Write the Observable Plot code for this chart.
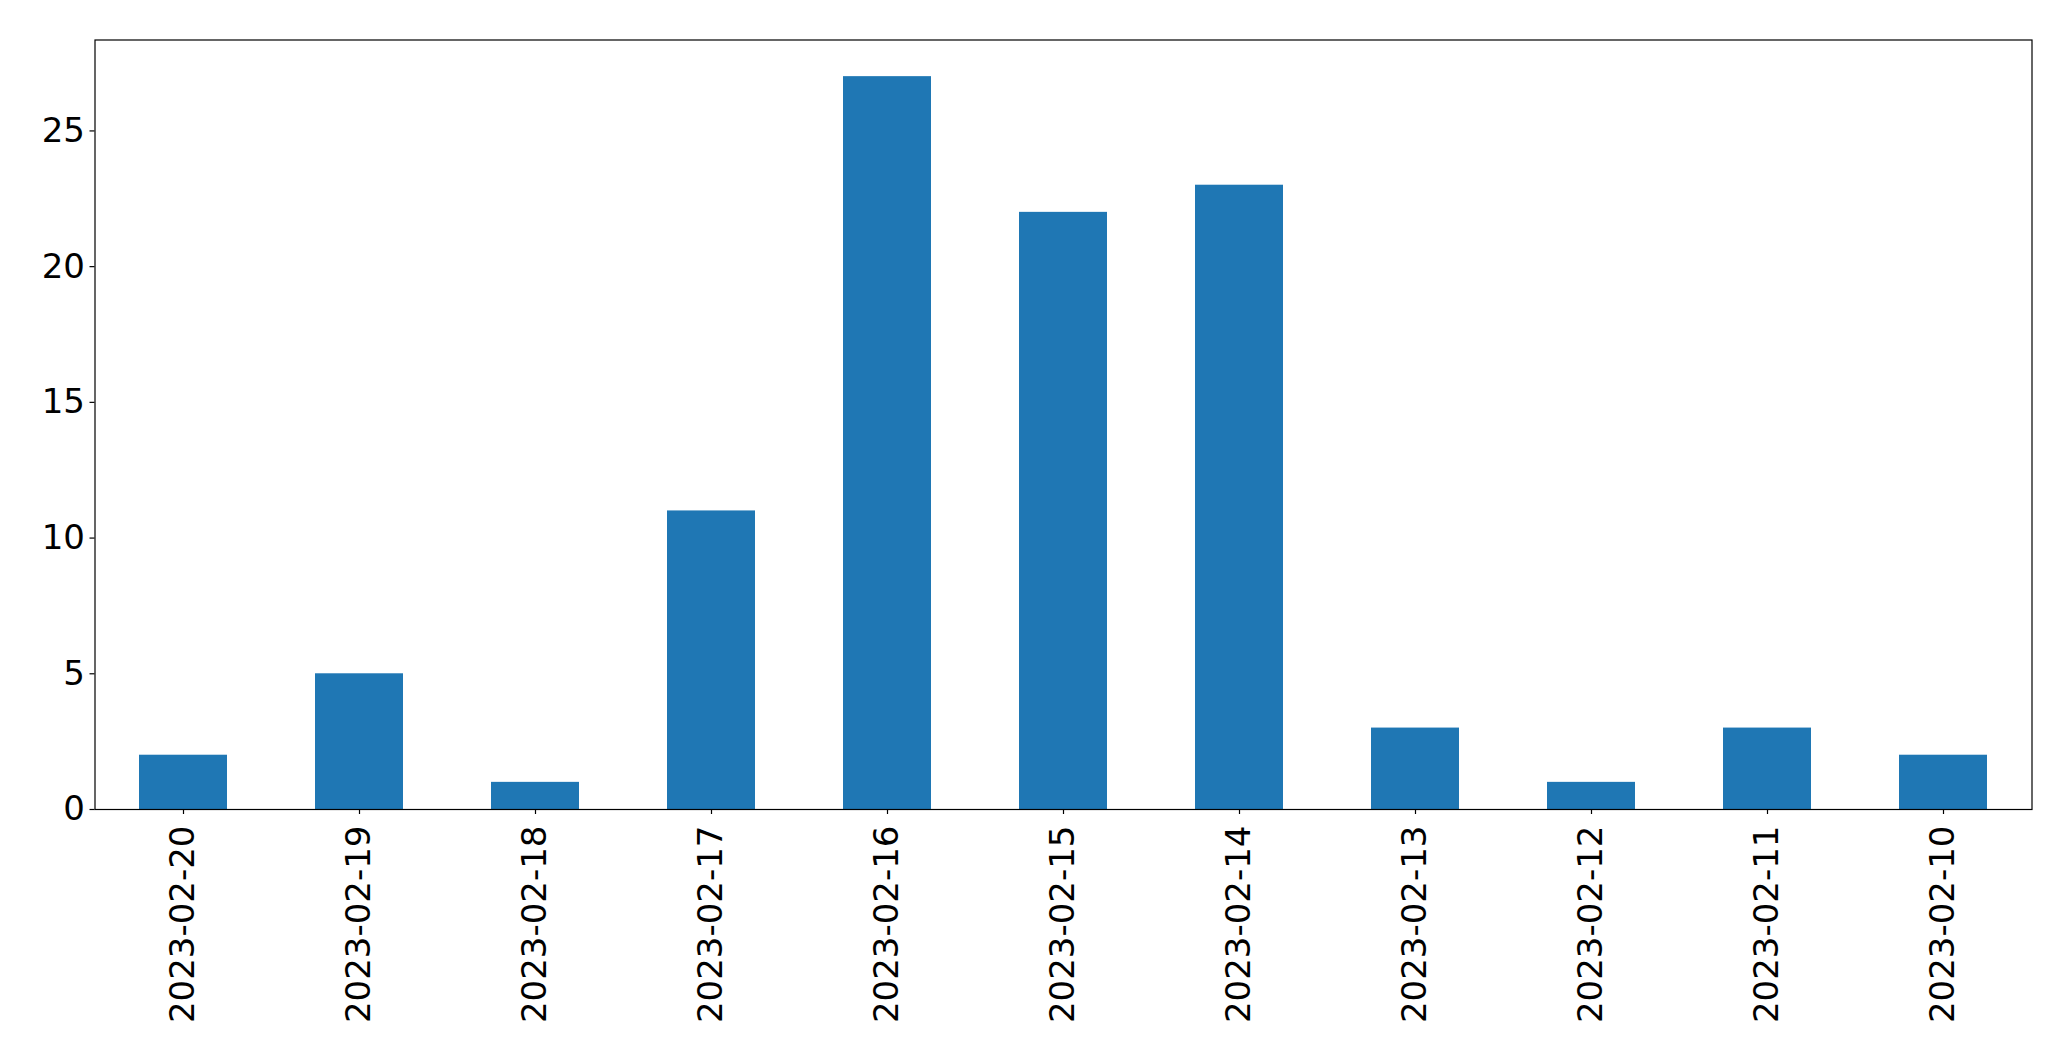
<!DOCTYPE html>
<html>
<head>
<meta charset="utf-8">
<script src="https://cdn.jsdelivr.net/npm/d3@7"></script>
<script src="https://cdn.jsdelivr.net/npm/@observablehq/plot@0.6"></script>
<style>
  html, body { margin: 0; padding: 0; background: #fff; }
  svg { display: block; }
</style>
</head>
<body>
<div id="chart"></div>
<script>
const dates = ["2023-02-20","2023-02-19","2023-02-18","2023-02-17","2023-02-16","2023-02-15","2023-02-14","2023-02-13","2023-02-12","2023-02-11","2023-02-10"];
const counts = [2, 5, 1, 11, 27, 22, 23, 3, 1, 3, 2];
const yTicks = [0, 5, 10, 15, 20, 25];

const data = dates.map((d, i) => ({date: d, count: counts[i]}));

const chart = Plot.plot({
  width: 2071,
  height: 1061,
  marginLeft: 94.5,
  marginRight: 39.5,
  marginTop: 39.5,
  marginBottom: 252,
  style: {fontFamily: "DejaVu Sans", fontSize: "34px", color: "black", background: "white"},
  x: {type: "band", domain: dates, paddingInner: 0.5, paddingOuter: 0.25, label: null},
  y: {domain: [0, 28.35], label: null},
  marks: [
    Plot.barY(data, {x: "date", y: "count", fill: "#1f77b4"}),
    Plot.frame({stroke: "black", strokeWidth: 1.2, strokeOpacity: 1}),
    Plot.axisY({ticks: yTicks, tickSize: 5, tickPadding: 5, strokeWidth: 1.2, fontSize: 34, label: null}),
    Plot.axisX({tickSize: 5, tickPadding: 11, tickRotate: -90, strokeWidth: 1.2, fontSize: 34, label: null})
  ]
});
document.getElementById("chart").appendChild(chart);
</script>
</body>
</html>
